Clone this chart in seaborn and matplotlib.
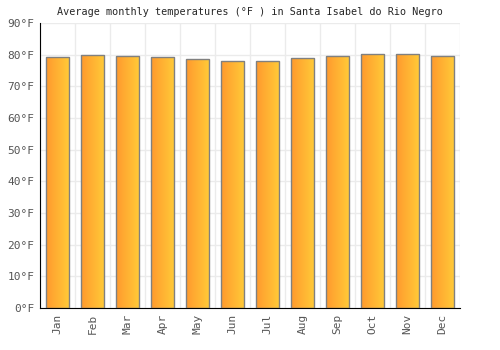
import matplotlib
matplotlib.use("Agg")
import matplotlib.pyplot as plt
import seaborn as sns
import numpy as np
import pandas as pd
from matplotlib.colors import LinearSegmentedColormap

months = ["Jan", "Feb", "Mar", "Apr", "May", "Jun", "Jul", "Aug", "Sep", "Oct", "Nov", "Dec"]
temps_f = [79.2, 79.8, 79.5, 79.2, 78.6, 77.9, 77.9, 78.9, 79.5, 80.1, 80.1, 79.5]
y_ticks = [0, 10, 20, 30, 40, 50, 60, 70, 80, 90]

sns.set_style("white")
plt.rcParams["font.family"] = ["DejaVu Sans Mono", "DejaVu Sans"]

df = pd.DataFrame({"month": months, "temp": temps_f})

fig, ax = plt.subplots(figsize=(5, 3.5), dpi=100)
fig.subplots_adjust(left=0.08, right=0.92, top=0.934, bottom=0.12)

sns.barplot(ax=ax, data=df, x="month", y="temp", width=0.66,
            color="#ffb133", edgecolor="#808080", linewidth=1.0, zorder=3)

# horizontal gradient fill inside each bar
grad = LinearSegmentedColormap.from_list("g", ["#ff9a2e", "#ffcb38"])
gradient = np.linspace(0, 1, 64).reshape(1, -1)
for patch in ax.patches:
    x0, y0 = patch.get_x(), patch.get_y()
    w, h = patch.get_width(), patch.get_height()
    im = ax.imshow(gradient, cmap=grad, aspect="auto", extent=[x0, x0 + w, y0, y0 + h],
                   zorder=2.5, interpolation="bilinear")
    im.set_clip_path(patch)
    patch.set_facecolor("none")

ax.set_xlim(-0.5, len(months) - 0.5)
ax.set_ylim(0, 90)
ax.set_yticks(y_ticks)
ax.set_yticklabels([f"{v}°F" for v in y_ticks], color="#555555", fontsize=8)
ax.set_xticks(range(len(months)))
ax.set_xticklabels(months, rotation=90, color="#555555", fontsize=8)

# grid between categories and at each 10 degrees
ax.set_xticks(np.arange(-0.5, len(months) + 0.5, 1), minor=True)
ax.grid(which="minor", axis="x", color="#ebebeb", linewidth=1, zorder=0)
ax.grid(which="major", axis="y", color="#ebebeb", linewidth=1, zorder=0)
ax.tick_params(axis="both", which="both", length=0, pad=4)
ax.set_axisbelow(True)

for side in ["top", "right"]:
    ax.spines[side].set_visible(False)
ax.spines["left"].set_color("black")
ax.spines["bottom"].set_color("black")
ax.set_xlabel("")
ax.set_ylabel("")
ax.set_title("Average monthly temperatures (°F ) in Santa Isabel do Rio Negro", fontsize=7.3, pad=6)

fig.savefig("out.png", dpi=100)
